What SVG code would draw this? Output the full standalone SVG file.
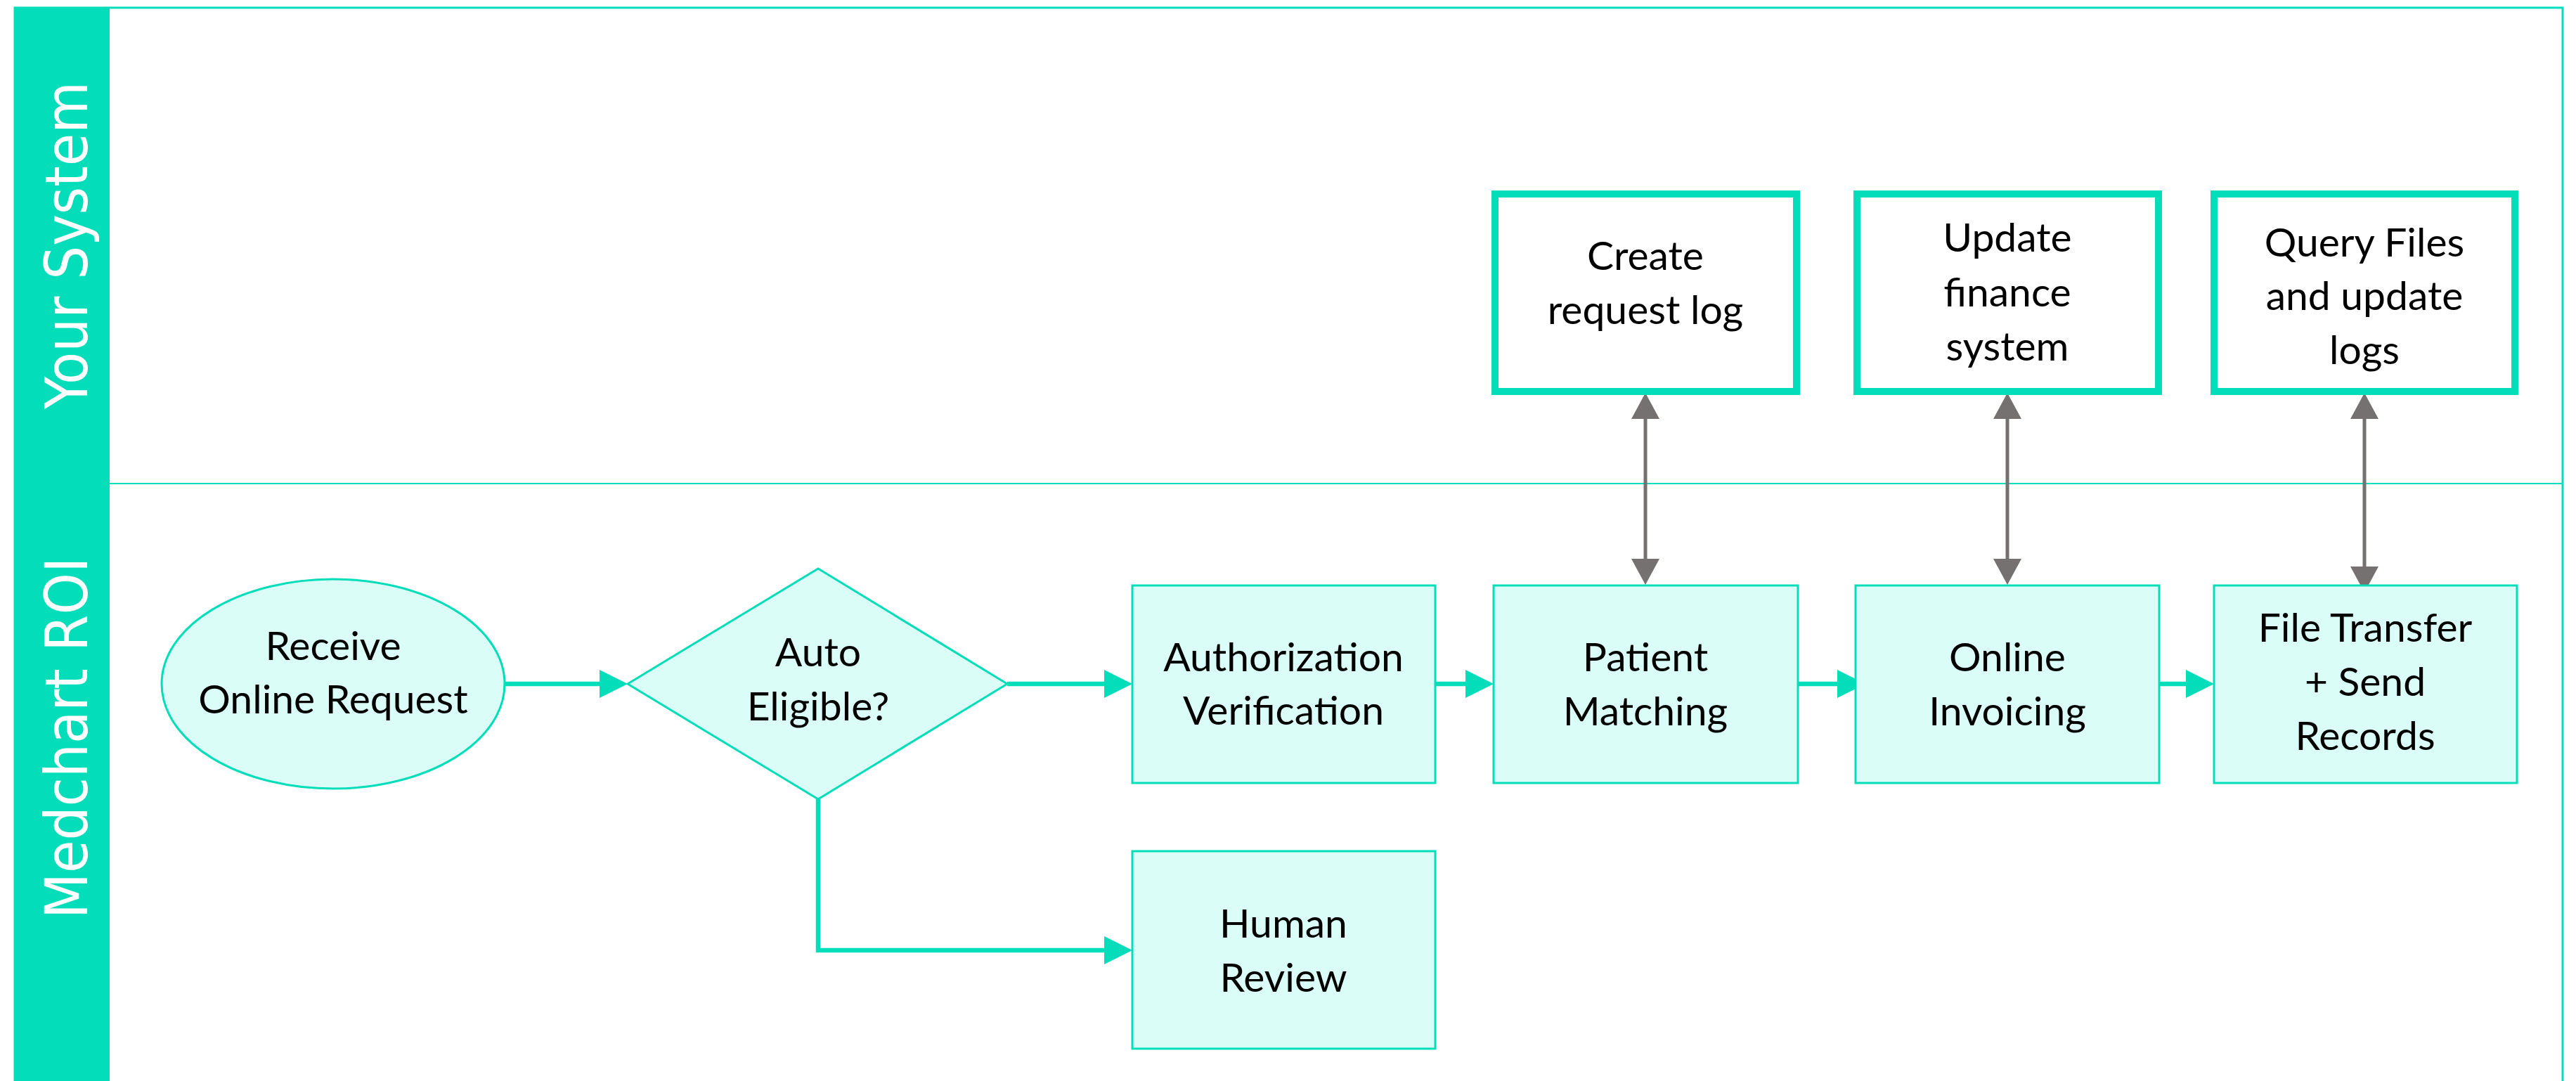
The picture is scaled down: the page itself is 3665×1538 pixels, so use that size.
<svg xmlns="http://www.w3.org/2000/svg" width="3665" height="1538" viewBox="0 0 3665 1538">
<style>
.lane{fill:#03DDB9;}
.lanetxt{font-family:'DejaVu Sans Condensed','DejaVu Sans',sans-serif;font-stretch:condensed;font-size:84px;fill:#ffffff;text-anchor:middle;}
.frame{fill:none;stroke:#03DDB9;stroke-width:3;}
.div{stroke:#03DDB9;stroke-width:2;}
.proc{fill:#DAFDF7;stroke:#03DDB9;stroke-width:3;}
.sys{fill:#ffffff;stroke:#03DDB9;stroke-width:10;}
.lbl{font-family:Lato,'Liberation Sans',sans-serif;font-size:57px;fill:#000000;text-anchor:middle;}
.flow{fill:none;stroke:#03DDB9;stroke-width:6.5;marker-end:url(#tealhead);}
.link{fill:none;stroke:#767171;stroke-width:5;marker-start:url(#grayhead);marker-end:url(#grayhead);}
</style>
<defs>
<marker id="tealhead" markerUnits="userSpaceOnUse" markerWidth="40" markerHeight="40" refX="0" refY="20" orient="auto" overflow="visible">
<path d="M0,0 L40,20 L0,40 Z" fill="#03DDB9"/>
</marker>
<marker id="grayhead" markerUnits="userSpaceOnUse" markerWidth="37" markerHeight="40" refX="0" refY="20" orient="auto-start-reverse" overflow="visible">
<path d="M0,0 L37,20 L0,40 Z" fill="#767171"/>
</marker>
</defs>
<rect x="0" y="0" width="3665" height="1538" fill="#ffffff"/>
<g id="frame">
<rect class="frame" x="21" y="11" width="3625" height="1540"/>
<line class="div" x1="156" y1="688" x2="3646" y2="688"/>
<rect class="lane" x="20" y="11" width="136" height="1527"/>
<text class="lanetxt" transform="translate(124,349) rotate(-90)">Your System</text>
<text class="lanetxt" transform="translate(124,1050) rotate(-90)">Medchart ROI</text>
</g>
<g id="connectors">
<line class="flow" x1="718" y1="973" x2="853" y2="973"/>
<line class="flow" x1="1433" y1="973" x2="1571" y2="973"/>
<path class="flow" d="M1164,1137 V1352 H1571"/>
<line class="flow" x1="2042" y1="973" x2="2085" y2="973"/>
<line class="flow" x1="2558" y1="973" x2="2614" y2="973"/>
<line class="flow" x1="3072" y1="973" x2="3110" y2="973"/>
<line class="link" x1="2341" y1="596" x2="2341" y2="795"/>
<line class="link" x1="2856" y1="596" x2="2856" y2="795"/>
<line class="link" x1="3364" y1="596" x2="3364" y2="806"/>
</g>
<g id="receive">
<ellipse class="proc" cx="474" cy="973" rx="244" ry="149" stroke-width="2.5"/>
<text class="lbl" x="474" y="939">Receive</text>
<text class="lbl" x="474" y="1015">Online Request</text>
</g>
<g id="eligible">
<polygon class="proc" points="893,973 1164,809 1433,973 1164,1137" stroke-width="2.5"/>
<text class="lbl" x="1164" y="948">Auto</text>
<text class="lbl" x="1164" y="1025">Eligible?</text>
</g>
<g id="authorization">
<rect class="proc" x="1611" y="833" width="431" height="281"/>
<text class="lbl" x="1826" y="955">Authorization</text>
<text class="lbl" x="1826" y="1031">Verification</text>
</g>
<g id="human">
<rect class="proc" x="1611" y="1211" width="431" height="281"/>
<text class="lbl" x="1826" y="1334">Human</text>
<text class="lbl" x="1826" y="1411">Review</text>
</g>
<g id="patient">
<rect class="proc" x="2125" y="833" width="433" height="281"/>
<text class="lbl" x="2341" y="955">Patient</text>
<text class="lbl" x="2341" y="1032">Matching</text>
</g>
<g id="invoicing">
<rect class="proc" x="2640" y="833" width="432" height="281"/>
<text class="lbl" x="2856" y="955">Online</text>
<text class="lbl" x="2856" y="1032">Invoicing</text>
</g>
<g id="transfer">
<rect class="proc" x="3150" y="833" width="431" height="281"/>
<text class="lbl" x="3365" y="913">File Transfer</text>
<text class="lbl" x="3365" y="990">+ Send</text>
<text class="lbl" x="3365" y="1067">Records</text>
</g>
<g id="requestlog">
<rect class="sys" x="2127" y="276" width="429" height="281"/>
<text class="lbl" x="2341" y="384">Create</text>
<text class="lbl" x="2341" y="461">request log</text>
</g>
<g id="finance">
<rect class="sys" x="2642" y="276" width="429" height="281"/>
<text class="lbl" x="2856" y="358">Update</text>
<text class="lbl" x="2856" y="436">finance</text>
<text class="lbl" x="2856" y="513">system</text>
</g>
<g id="queryfiles">
<rect class="sys" x="3150" y="276" width="428" height="281"/>
<text class="lbl" x="3364" y="365">Query Files</text>
<text class="lbl" x="3364" y="441">and update</text>
<text class="lbl" x="3364" y="518">logs</text>
</g>
</svg>
